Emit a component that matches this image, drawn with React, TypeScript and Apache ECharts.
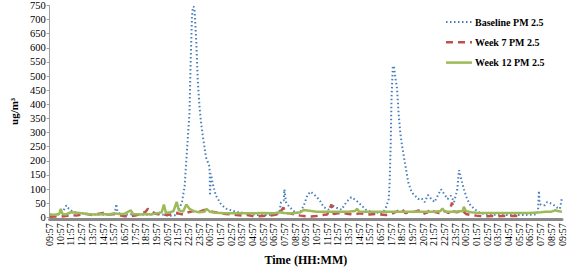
import React, { useEffect, useRef } from "react";
import * as echarts from "echarts";

const timeLabels: string[] = [
  "09:57", "10:57", "11:57", "12:57", "13:57", "14:57", "15:57", "16:57", "17:57", "18:57",
  "19:57", "20:57", "21:57", "22:57", "23:57", "00:57", "01:57", "02:57", "03:57", "04:57",
  "05:57", "06:57", "07:57", "08:57", "09:57", "10:57", "11:57", "12:57", "13:57", "14:57",
  "15:57", "16:57", "17:57", "18:57", "19:57", "20:57", "21:57", "22:57", "23:57", "00:57",
  "01:57", "02:57", "03:57", "04:57", "05:57", "06:57", "07:57", "08:57", "09:57",
];

const yTicks = { min: 0, max: 750, step: 50 };

// [hours since 09:57, ug/m3]
const baseline: [number, number][] = [
  [0, 10], [0.5, 8], [1.0, 12], [1.3, 25], [1.56, 42], [1.8, 30], [2.2, 20], [2.8, 15], [3.5, 12],
  [4.5, 10], [5.5, 9], [6.1, 12], [6.24, 47], [6.35, 20], [6.6, 12], [7, 10], [8, 11], [9, 9],
  [10, 12], [10.5, 10], [11, 7], [11.5, 5], [11.8, 8], [12.0, 20], [12.2, 35], [12.4, 55],
  [12.65, 111], [12.9, 257], [13.1, 368], [13.2, 537], [13.33, 706], [13.42, 745], [13.5, 746],
  [13.58, 730], [13.73, 628], [13.88, 483], [14.04, 392], [14.2, 330], [14.34, 290], [14.65, 212],
  [14.95, 183], [15.0, 160], [15.02, 77], [15.11, 155], [15.26, 122], [15.57, 77], [16.03, 48],
  [16.49, 31], [17.4, 20], [18.62, 14], [19.5, 8], [20.5, 8], [21.3, 10], [21.53, 20], [21.68, 54],
  [21.93, 60], [21.99, 99], [22.14, 54], [22.45, 37], [22.75, 27], [23.06, 15], [23.5, 20],
  [23.83, 43], [24.13, 77], [24.43, 91], [24.74, 82], [25.05, 71], [25.35, 57], [25.66, 37],
  [26.12, 27], [26.42, 44], [26.88, 34], [27.34, 27], [27.8, 54], [28.26, 71], [28.72, 60],
  [29.17, 44], [29.63, 27], [30.25, 18], [31.17, 15], [31.47, 31], [31.77, 65], [31.85, 122],
  [31.95, 257], [32.03, 426], [32.15, 533], [32.25, 536], [32.39, 493], [32.54, 459], [32.69, 369],
  [32.84, 302], [33.0, 257], [33.3, 189], [33.61, 122], [33.92, 88], [34.22, 77], [34.52, 65],
  [34.83, 68], [35.14, 54], [35.44, 79], [35.75, 65], [36.06, 54], [36.36, 77], [36.67, 99],
  [36.97, 82], [37.28, 65], [37.59, 77], [37.89, 54], [38.19, 99], [38.35, 167], [38.5, 144],
  [38.81, 99], [39.11, 65], [39.42, 43], [39.88, 27], [40.34, 15], [41, 10], [42, 9], [43, 8],
  [44, 8], [45, 9], [45.6, 10], [45.75, 20], [45.84, 94], [45.9, 48], [46.1, 43], [46.4, 43],
  [46.6, 54], [46.9, 50], [47.2, 45], [47.5, 35], [47.8, 30], [48, 70],
];

const week7: [number, number][] = [
  [0, 2], [0.5, 3], [1, 2], [1.5, 5], [2, 8], [2.5, 6], [3, 10], [3.5, 12], [4, 8], [4.5, 12],
  [5, 15], [5.2, 18], [5.5, 10], [6, 12], [6.5, 8], [7, 4], [7.5, 3], [8, 6], [8.5, 12], [9, 20],
  [9.2, 30], [9.5, 22], [10, 12], [10.5, 10], [11, 8], [11.5, 12], [12, 14], [12.5, 10], [13, 18],
  [13.5, 22], [14, 20], [14.5, 26], [15, 22], [15.5, 18], [16, 15], [16.5, 12], [17, 10], [17.5, 8],
  [18, 6], [18.5, 8], [19, 5], [19.5, 4], [20, 5], [20.5, 6], [21, 8], [21.5, 12], [21.9, 35],
  [22.1, 15], [22.5, 14], [23, 10], [23.5, 6], [24, 4], [24.5, 3], [25, 5], [25.5, 8], [26, 10],
  [26.4, 45], [26.6, 12], [27, 14], [27.5, 15], [28, 12], [28.5, 10], [29, 14], [29.5, 12], [30, 10],
  [30.5, 12], [31, 10], [31.5, 8], [32, 12], [32.5, 20], [33, 30], [33.3, 15], [33.8, 18], [34.2, 20],
  [34.6, 24], [35, 12], [35.4, 18], [35.75, 30], [36, 20], [36.5, 15], [37, 22], [37.4, 15],
  [37.7, 52], [37.9, 20], [38.2, 18], [38.6, 26], [39, 12], [39.5, 8], [40, 6], [40.5, 5], [41, 4],
  [41.5, 5], [42, 4], [42.5, 5], [43, 4], [43.5, 5], [44, 4],
];

const week12: [number, number][] = [
  [0, 10], [0.5, 9], [0.9, 12], [1.04, 30], [1.2, 12], [1.5, 10], [2, 18], [2.5, 16], [3, 14],
  [3.5, 12], [4, 10], [4.5, 10], [5, 12], [5.5, 10], [6, 14], [6.5, 12], [7, 12], [7.6, 25],
  [7.8, 12], [8.5, 10], [9, 12], [9.5, 10], [10, 14], [10.5, 18], [10.7, 45], [10.9, 15], [11.3, 18],
  [11.6, 22], [11.9, 55], [12.1, 25], [12.5, 20], [12.8, 45], [13.1, 30], [13.5, 22], [14, 18],
  [14.5, 20], [14.7, 30], [15, 20], [15.5, 16], [16, 15], [16.5, 14], [17, 14], [18, 14], [19, 14],
  [20, 15], [21, 14], [21.5, 18], [22, 15], [22.5, 14], [23, 15], [23.5, 18], [23.8, 26], [24.5, 22],
  [25, 20], [26, 20], [27, 20], [28, 20], [28.6, 22], [28.8, 30], [29, 20], [30, 20], [31, 20],
  [32, 20], [33, 20], [34, 20], [35, 20], [36, 20], [36.6, 22], [36.8, 31], [37, 20], [38, 20],
  [38.7, 22], [38.8, 37], [39, 22], [39.5, 18], [40, 16], [41, 15], [42, 15], [43, 15], [44, 15],
  [45, 15], [46, 18], [46.5, 20], [47, 20], [47.4, 25], [47.6, 22], [48, 20],
];

const seriesNames = ["Baseline PM 2.5", "Week 7 PM 2.5", "Week 12 PM 2.5"];
const seriesColors = ["#4a7ebb", "#c0504d", "#9bbb59"];
const seriesDash: (number[] | null)[] = [[1.5, 2.5], [7, 5], null];
const seriesWidth = [2, 2.5, 2.5];

export default function App() {
  const ref = useRef<HTMLDivElement>(null);
  useEffect(() => {
    if (!ref.current) return;
    const chart = echarts.init(ref.current, null, { renderer: "svg" });
    const font = "'Liberation Serif', 'Times New Roman', serif";
    const legendTop = 22;
    const legendStep = 20.3;
    const legendGraphics: any[] = [];
    seriesNames.forEach((name, i) => {
      const y = legendTop + i * legendStep;
      legendGraphics.push({
        type: "line",
        shape: { x1: 446, y1: y, x2: 472, y2: y },
        style: {
          stroke: seriesColors[i],
          lineWidth: seriesWidth[i],
          lineDash: seriesDash[i] ?? undefined,
        },
      });
      legendGraphics.push({
        type: "text",
        x: 475,
        y,
        style: {
          text: name,
          fontFamily: font,
          fontWeight: "bold",
          fontSize: 10,
          fill: "#000",
          verticalAlign: "middle",
          align: "left",
        },
      });
    });
    chart.setOption({
      animation: false,
      backgroundColor: "#ffffff",
      textStyle: { fontFamily: font },
      grid: { left: 36, right: 4, top: 4, bottom: 45 },
      graphic: legendGraphics,
      xAxis: {
        type: "value",
        min: 0,
        max: timeLabels.length - 1,
        interval: 1,
        offset: 2,
        name: "Time (HH:MM)",
        nameLocation: "middle",
        nameGap: 29,
        nameTextStyle: { fontFamily: font, fontWeight: "bold", fontSize: 12, color: "#000" },
        axisLine: { show: true, onZero: false, lineStyle: { color: "#8a8a8a", width: 3 } },
        axisTick: { show: false },
        splitLine: { show: false },
        axisLabel: {
          rotate: 90,
          fontSize: 10,
          lineHeight: 10,
          color: "#000",
          fontFamily: font,
          margin: 4,
          showMinLabel: true,
          showMaxLabel: true,
          hideOverlap: false,
          formatter: (v: number) => timeLabels[Math.round(v)] ?? "",
        },
      },
      yAxis: {
        type: "value",
        min: yTicks.min,
        max: yTicks.max,
        interval: yTicks.step,
        name: "ug/m³",
        nameLocation: "middle",
        nameGap: 25,
        nameTextStyle: { fontFamily: font, fontWeight: "bold", fontSize: 11, color: "#000" },
        axisLine: { show: true, lineStyle: { color: "#a0a0a0", width: 1 } },
        axisTick: { show: true, length: 3, lineStyle: { color: "#a0a0a0" } },
        splitLine: { show: false },
        axisLabel: {
          fontSize: 10.5,
          color: "#000",
          fontFamily: font,
          margin: 4,
          showMinLabel: true,
          showMaxLabel: true,
        },
      },
      series: seriesNames.map((name, i) => ({
        name,
        type: "line",
        data: [baseline, week7, week12][i],
        symbol: "none",
        lineStyle: {
          color: seriesColors[i],
          width: seriesWidth[i],
          type: seriesDash[i] ?? "solid",
        },
        itemStyle: { color: seriesColors[i] },
        z: 2 + i,
      })),
    });
    return () => chart.dispose();
  }, []);
  return (
    <div
      ref={ref}
      style={{ position: "fixed", left: 0, top: 0, width: 567, height: 271, background: "#fff" }}
    />
  );
}
